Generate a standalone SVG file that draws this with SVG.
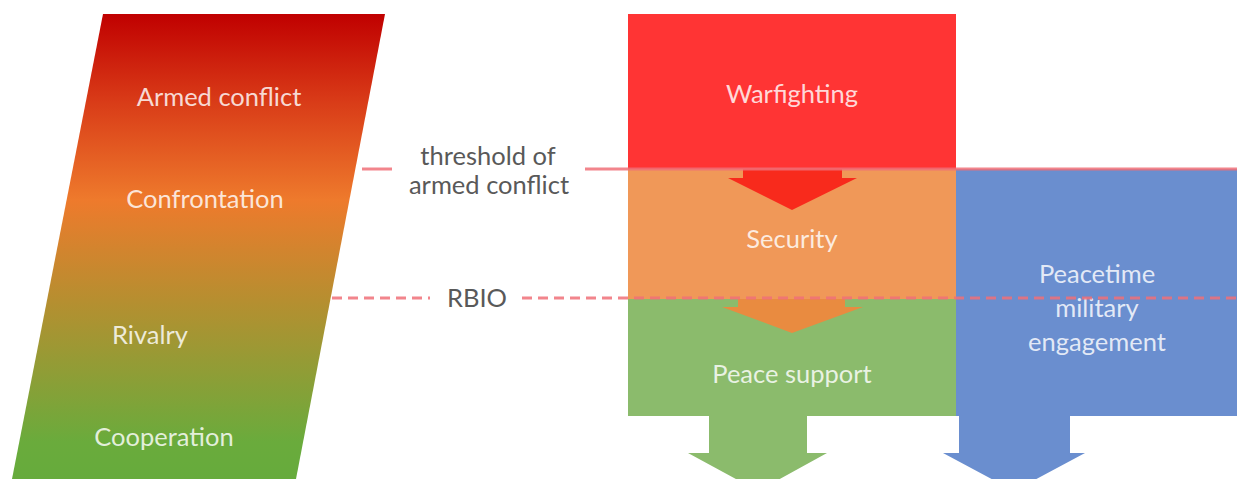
<svg xmlns="http://www.w3.org/2000/svg" width="1237" height="479" viewBox="0 0 1237 479">
<style>
.lbl{font-family:Lato,"Liberation Sans",sans-serif;font-size:25.5px;fill:#ffffff;fill-opacity:.82;text-anchor:middle}
.dark{font-family:Lato,"Liberation Sans",sans-serif;font-size:25.5px;fill:#595959;text-anchor:middle}
.line{stroke:#f07078;stroke-width:3;fill:none;stroke-opacity:.85}
.dash{stroke-dasharray:10 6}
</style>
<defs>
<linearGradient id="g" x1="0" y1="0" x2="0" y2="1">
<stop offset="0" stop-color="#c00000"/>
<stop offset="0.19" stop-color="#d93c18"/>
<stop offset="0.40" stop-color="#ee7a2c"/>
<stop offset="0.62" stop-color="#b58f30"/>
<stop offset="0.92" stop-color="#6aab3c"/>
<stop offset="1" stop-color="#66ab3c"/>
</linearGradient>
</defs>
<rect width="1237" height="479" fill="#ffffff"/>
<g id="spectrum">
<polygon points="103,14 385,14 296,479 12,479" fill="url(#g)"/>
<text class="lbl" x="219" y="106">Armed conflict</text>
<text class="lbl" x="205" y="208">Confrontation</text>
<text class="lbl" x="150" y="344">Rivalry</text>
<text class="lbl" x="164" y="446">Cooperation</text>
</g>
<g id="warfighting">
<rect x="628" y="14" width="328" height="155" fill="#ff3434"/>
<text class="lbl" x="792" y="103">Warfighting</text>
</g>
<g id="security">
<rect x="628" y="169" width="328" height="130" fill="#f09858"/>
<text class="lbl" x="792" y="248">Security</text>
</g>
<g id="peace-support">
<rect x="628" y="299" width="328" height="117" fill="#8bbb6c"/>
<text class="lbl" x="792" y="383">Peace support</text>
</g>
<g id="peacetime">
<rect x="956" y="169" width="281" height="247" fill="#6a8ecf"/>
<text class="lbl" x="1097" y="283">Peacetime</text>
<text class="lbl" x="1097" y="317">military</text>
<text class="lbl" x="1097" y="351">engagement</text>
</g>
<g id="connectors">
<polygon points="743,169 842,169 842,178 857,178 792,210 728,178 743,178" fill="#f82a1c"/>
<polygon points="738,299 845,299 845,307 863,307 792,333 722,307 738,307" fill="#e98b40"/>
<polygon points="709,416 807,416 807,453 827,453 758,491 688,453 709,453" fill="#8bbb6c"/>
<polygon points="959,416 1070,416 1070,453 1085,453 1014,491 943,453 959,453" fill="#6a8ecf"/>
<line class="line" x1="362" y1="169" x2="392" y2="169"/>
<line class="line" x1="585" y1="169" x2="1237" y2="169"/>
<line class="line dash" x1="332" y1="298" x2="430" y2="298"/>
<line class="line dash" x1="522" y1="298" x2="1237" y2="298"/>
</g>
<g id="labels">
<text class="dark" x="488" y="165">threshold of</text>
<text class="dark" x="489" y="194">armed conflict</text>
<text class="dark" x="477" y="307">RBIO</text>
</g>
</svg>
